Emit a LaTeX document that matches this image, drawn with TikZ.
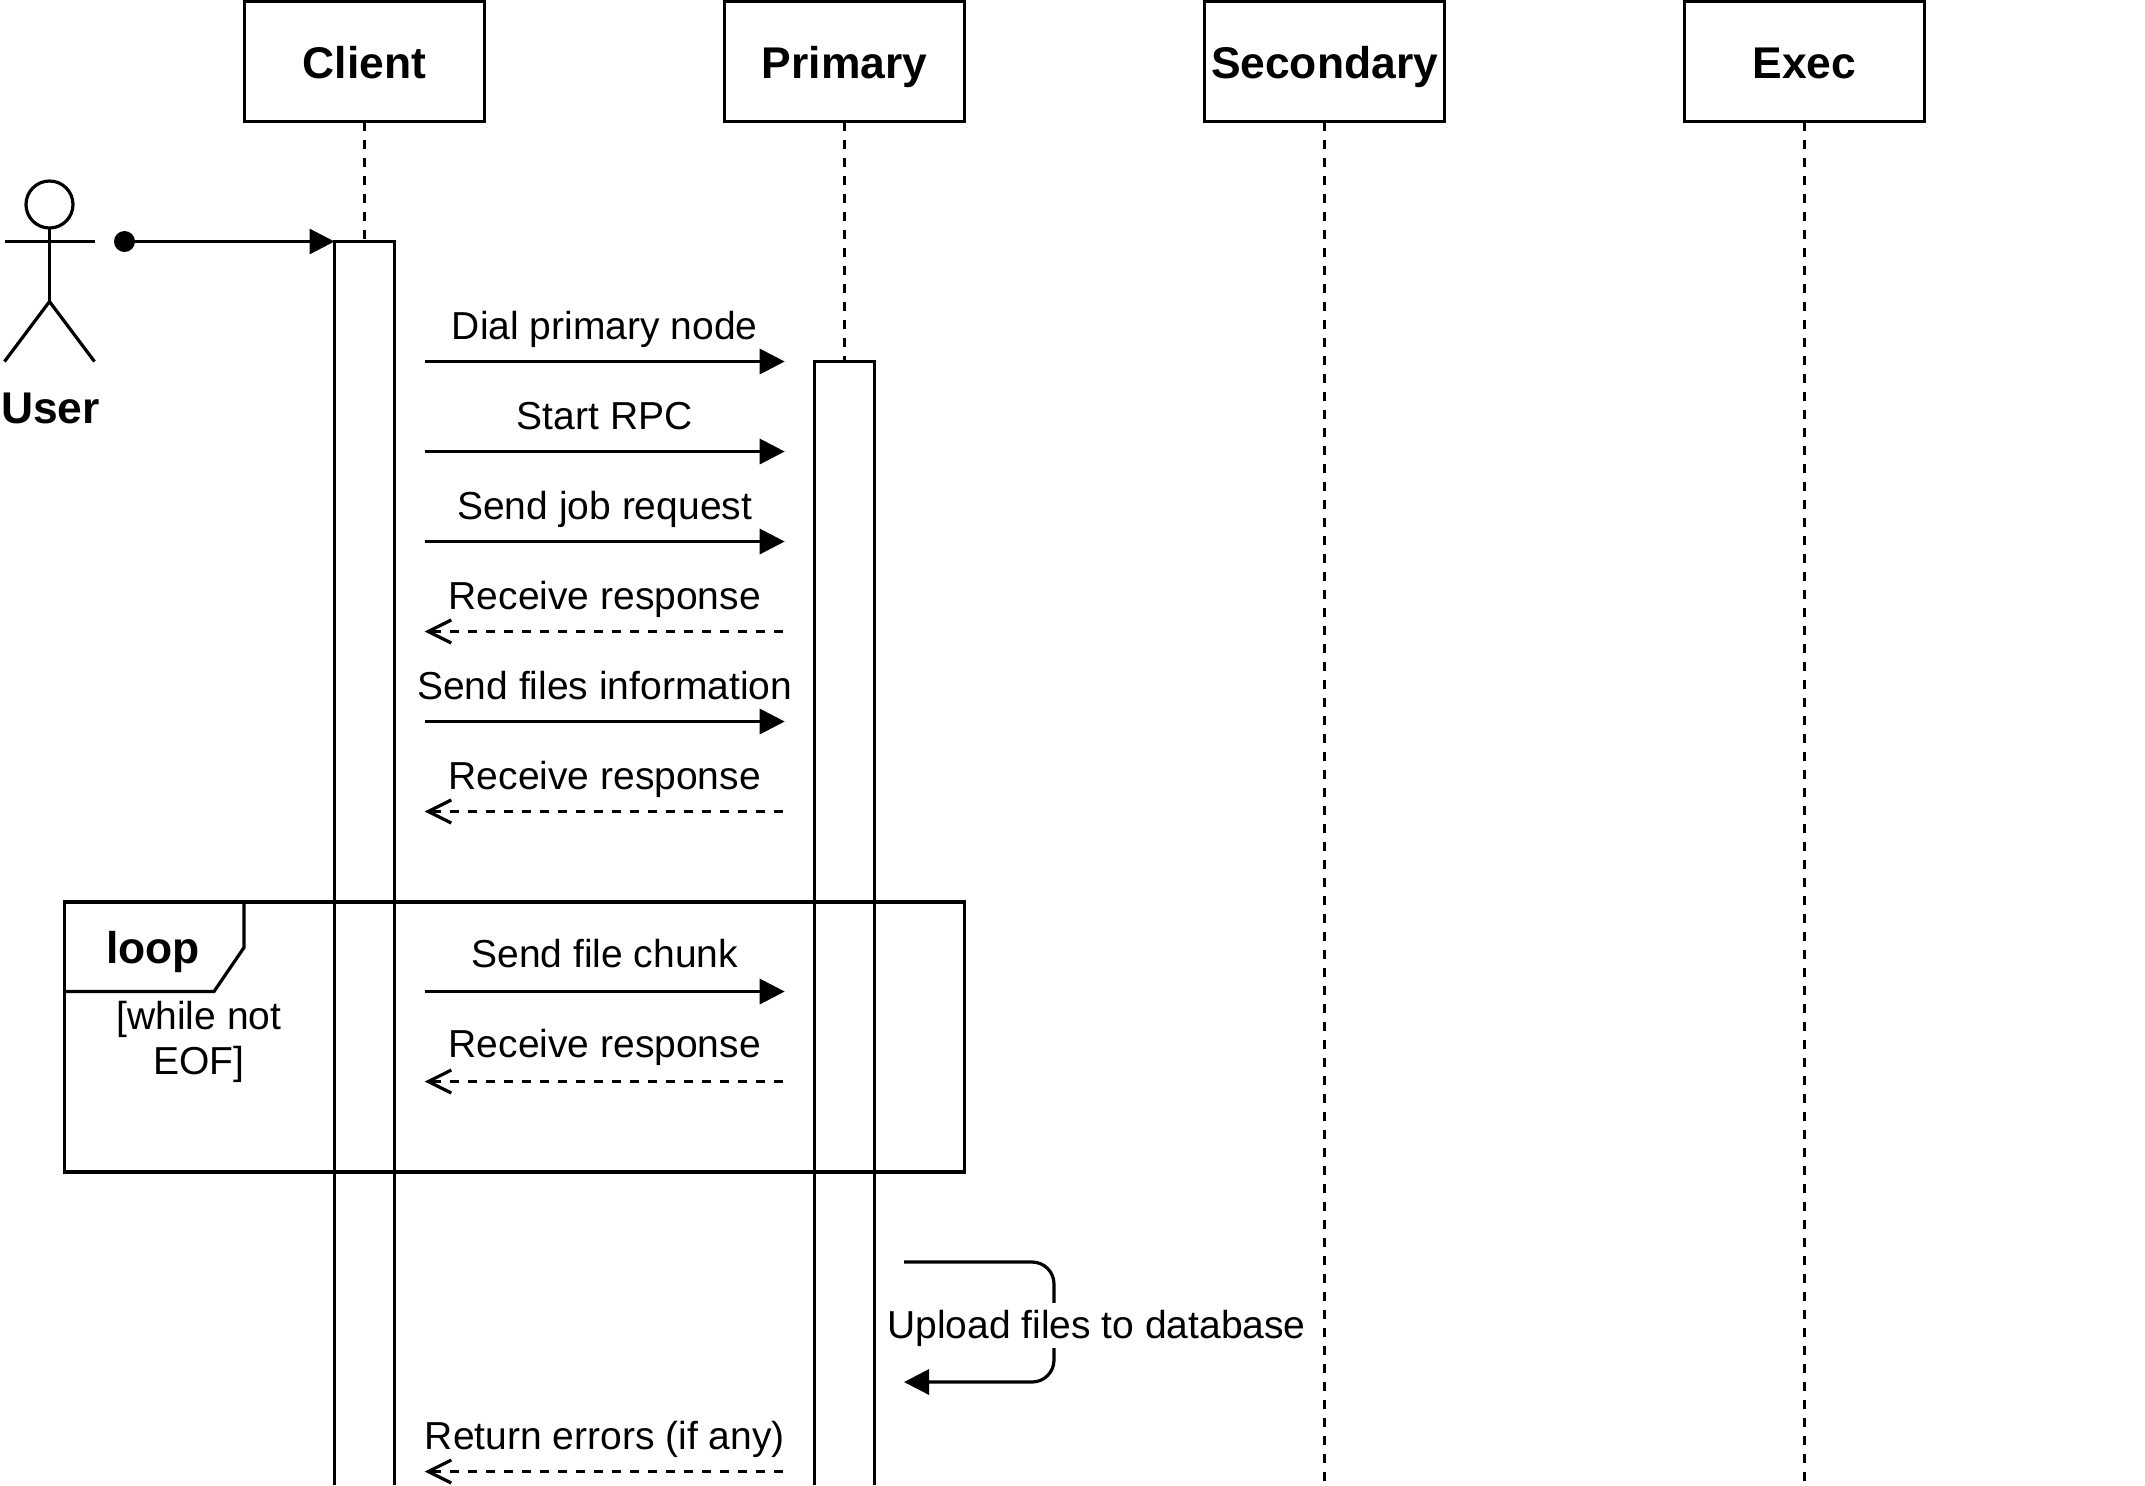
\documentclass[tikz,border=0pt]{standalone}
\usepackage{fontspec}
\setmainfont{Liberation Sans}
\usetikzlibrary{arrows.meta}

\tikzset{
  lineart/.style={line width=1.6pt},
  lifebox/.style={lineart, draw, minimum width=120pt, minimum height=60pt, inner sep=0pt, outer sep=0pt,
    font=\fontsize{22.2}{25}\selectfont\bfseries, text height=20pt, text depth=3.5pt},
  lifeline/.style={lineart, dash pattern=on 4.5pt off 4.5pt},
  msgsolid/.style={lineart, -{Triangle[length=12.5pt,width=12.5pt]}},
  msgdash/.style={lineart, dash pattern=on 4.5pt off 4.5pt, -{Straight Barb[length=11.5pt,width=11.5pt]}},
  msgtext/.style={font=\fontsize{19.5}{22.5}\selectfont, anchor=base, yshift=10.8pt, inner sep=0pt},
  backtext/.style={msgtext, xshift=0.5pt},
  looptext/.style={msgtext, yshift=1.4pt},
}

\begin{document}
\begin{tikzpicture}[x=0.5pt,y=-0.5pt]
\useasboundingbox (0,0) rectangle (2145,1485);
% lifelines
\node[lifebox] (client) at (364.5,61.7) {Client};
\node[lifebox] (primary) at (844.5,61.7) {Primary};
\node[lifebox] (secondary) at (1324.5,61.7) {Secondary};
\node[lifebox] (exec) at (1804.5,61.7) {Exec};
\coordinate (clientact) at (364.5,241.5);
\coordinate (primaryact) at (844.5,361.5);
\coordinate (secondaryend) at (1324.5,1483);
\coordinate (execend) at (1804.5,1483);
\draw[lifeline] (client.south) -- (clientact);
\draw[lifeline] (primary.south) -- (primaryact);
\draw[lifeline] (secondary.south) -- (secondaryend);
\draw[lifeline] (exec.south) -- (execend);
% activations, cut off by the page
\coordinate (clientactl) at (334.5,241.5);
\draw[lineart] (334.5,1485) -- (clientactl) -- (394.5,241.5) -- (394.5,1485);
\draw[lineart] (814.5,1485) -- (814.5,361.5) -- (874.5,361.5) -- (874.5,1485);
% actor
\node[lineart, draw, circle, minimum size=23.5pt, inner sep=0pt, outer sep=0pt] (head) at (49.5,204.5) {};
\coordinate (hip) at (49.5,301.5);
\coordinate (armleft) at (4.5,241.5);
\coordinate (armright) at (94.5,241.5);
\coordinate (footleft) at (4.5,361.5);
\coordinate (footright) at (94.5,361.5);
\draw[lineart] (head.south) -- (hip);
\draw[lineart] (armleft) -- (armright);
\draw[lineart] (footleft) -- (hip) -- (footright);
\node[font=\fontsize{22.2}{25}\selectfont\bfseries, anchor=base, inner sep=0pt] (user) at (50.5,423.5) {User};
\node[fill=black, circle, minimum size=10.5pt, inner sep=0pt, outer sep=0pt] (start) at (124.5,241.5) {};
\draw[msgsolid] (start) -- (clientactl);
% messages
\coordinate (m1a) at (424.7,361.5); \coordinate (m1b) at (784.7,361.5);
\coordinate (m2a) at (424.7,451.5); \coordinate (m2b) at (784.7,451.5);
\coordinate (m3a) at (424.7,541.5); \coordinate (m3b) at (784.7,541.5);
\coordinate (m4a) at (424.7,631.5); \coordinate (m4b) at (783,631.5);
\coordinate (m5a) at (424.7,721.5); \coordinate (m5b) at (784.7,721.5);
\coordinate (m6a) at (424.7,811.5); \coordinate (m6b) at (783,811.5);
\coordinate (m7a) at (424.7,991.5); \coordinate (m7b) at (784.7,991.5);
\coordinate (m8a) at (424.7,1081.5); \coordinate (m8b) at (783,1081.5);
\coordinate (m9a) at (424.7,1471.5); \coordinate (m9b) at (783,1471.5);
\draw[msgsolid] (m1a) -- node[msgtext, midway] (dial) {Dial primary node} (m1b);
\draw[msgsolid] (m2a) -- node[msgtext, midway] (rpc) {Start RPC} (m2b);
\draw[msgsolid] (m3a) -- node[msgtext, midway] (jobreq) {Send job request} (m3b);
\draw[msgdash] (m4b) -- node[backtext, midway] (resp1) {Receive response} (m4a);
\draw[msgsolid] (m5a) -- node[msgtext, midway] (filesinfo) {Send files information} (m5b);
\draw[msgdash] (m6b) -- node[backtext, midway] (resp2) {Receive response} (m6a);
\draw[msgsolid] (m7a) -- node[looptext, midway] (chunk) {Send file chunk} (m7b);
\draw[msgdash] (m8b) -- node[looptext, xshift=0.5pt, midway] (resp3) {Receive response} (m8a);
\draw[msgdash] (m9b) -- node[backtext, midway] (errors) {Return errors (if any)} (m9a);
% loop frame
\draw[lineart] (64.5,902) rectangle (964.5,1172);
\draw[lineart] (64.5,991.5) -- (214,991.5) -- (244,947.5) -- (244,902);
\node[font=\fontsize{22.2}{25}\selectfont\bfseries, anchor=base, inner sep=0pt] (loop) at (153,963) {loop};
\node[font=\fontsize{19.5}{22.5}\selectfont, align=center, anchor=base, inner sep=0pt] (cond) at (199,1074) {[while not\\EOF]};
% self call
\coordinate (selfa) at (904,1262);
\coordinate (selfb) at (904,1382);
\draw[msgsolid, rounded corners=11pt] (selfa) -- (1054,1262) -- (1054,1382) -- (selfb);
\node[font=\fontsize{19.5}{22.5}\selectfont, anchor=base, fill=white, inner sep=0pt, text height=17.5pt, text depth=5pt] (upload) at (1096.5,1338.4) {Upload files to database};
\end{tikzpicture}
\end{document}
